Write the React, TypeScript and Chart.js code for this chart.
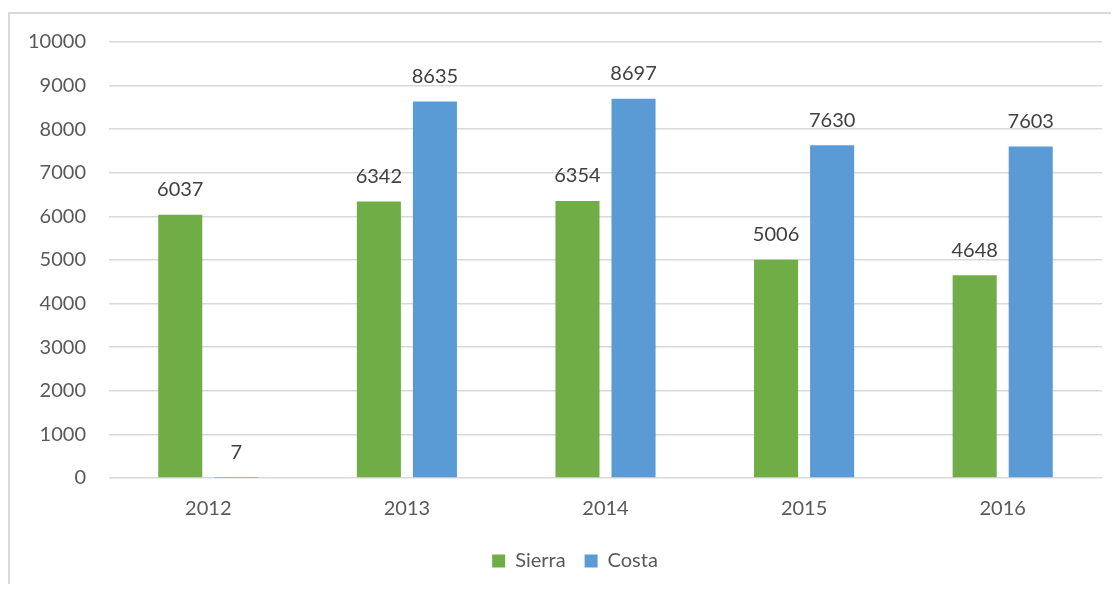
import React, { useEffect, useRef } from "react";
import { Chart, registerables } from "chart.js";

Chart.register(...registerables);

const categories = ["2012", "2013", "2014", "2015", "2016"];
const sierraValues = [6037, 6342, 6354, 5006, 4648];
const costaValues = [7, 8635, 8697, 7630, 7603];
const seriesNames = ["Sierra", "Costa"];
const yMin = 0;
const yMax = 10000;
const yStep = 1000;

const FONT = "Lato, 'Open Sans', sans-serif";

const dataLabelPlugin = {
  id: "dataLabels",
  afterDatasetsDraw(chart: any) {
    const ctx = chart.ctx;
    ctx.save();
    ctx.font = `20px ${FONT}`;
    ctx.fillStyle = "#404040";
    ctx.textAlign = "center";
    ctx.textBaseline = "middle";
    chart.data.datasets.forEach((ds: any, di: number) => {
      const meta = chart.getDatasetMeta(di);
      meta.data.forEach((bar: any, i: number) => {
        ctx.fillText(String(ds.data[i]), bar.x, bar.y - 25);
      });
    });
    ctx.restore();
  },
};

const legendShiftPlugin = {
  id: "legendShift",
  afterLayout(chart: any) {
    if (chart.legend) {
      chart.legend.left += 19;
      chart.legend.right += 19;
    }
  },
};

export default function App() {
  const ref = useRef<HTMLCanvasElement>(null);
  useEffect(() => {
    if (!ref.current) return;
    const chart = new Chart(ref.current, {
      type: "bar",
      data: {
        labels: categories,
        datasets: [
          {
            label: seriesNames[0],
            data: sierraValues,
            backgroundColor: "#70AD47",
            categoryPercentage: 0.5645,
            barPercentage: 0.786,
          },
          {
            label: seriesNames[1],
            data: costaValues,
            backgroundColor: "#5B9BD5",
            categoryPercentage: 0.5645,
            barPercentage: 0.786,
          },
        ],
      },
      options: {
        responsive: false,
        animation: false,
        layout: { padding: { top: 28, right: 17, left: 0, bottom: 3 } },
        plugins: {
          tooltip: { enabled: false },
          legend: {
            position: "bottom",
            labels: {
              boxWidth: 13,
              boxHeight: 13,
              padding: 19,
              color: "#595959",
              font: { family: FONT, size: 20 },
            },
          },
        },
        scales: {
          x: {
            afterFit: (s: any) => {
              s.height = s.height - 8;
            },
            grid: { display: false, drawTicks: false },
            border: { display: false },
            ticks: {
              color: "#595959",
              padding: 19,
              font: { family: FONT, size: 20 },
            },
          },
          y: {
            min: yMin,
            max: yMax,
            afterFit: (s: any) => {
              s.width = 99;
            },
            grid: {
              color: "#d9d9d9",
              lineWidth: 1.5,
              drawTicks: true,
              tickLength: 23,
              tickColor: "rgba(0,0,0,0)",
            },
            border: { display: false },
            ticks: {
              stepSize: yStep,
              color: "#595959",
              padding: 0,
              font: { family: FONT, size: 20 },
              callback: (v: any) => String(v),
            },
          },
        },
      },
      plugins: [dataLabelPlugin, legendShiftPlugin],
    });
    return () => chart.destroy();
  }, []);
  return (
    <div
      style={{
        marginTop: 4,
        marginBottom: -8,
        borderLeft: "2px solid #d9d9d9",
        borderTop: "2px solid #d9d9d9",
        width: 1109,
        height: 578,
      }}
    >
      <canvas ref={ref} width={1109} height={570} style={{ display: "block" }} />
    </div>
  );
}
